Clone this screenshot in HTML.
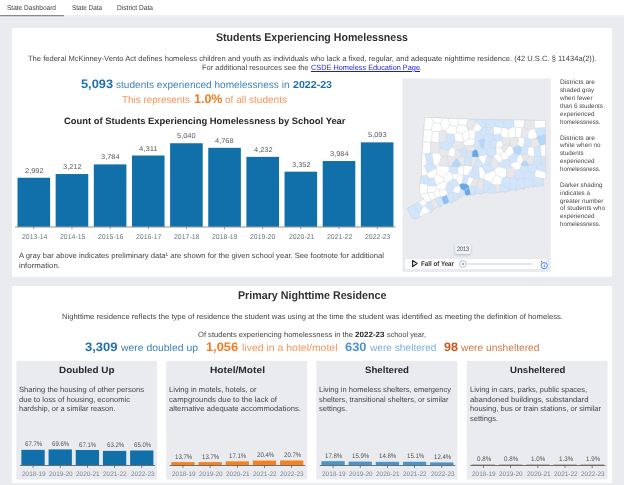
<!DOCTYPE html>
<html lang="en"><head><meta charset="utf-8"><title>Students Experiencing Homelessness</title>
<style>
html,body{margin:0;padding:0}
body{width:624px;height:485px;overflow:hidden;background:#e9ebef;position:relative;font-family:"Liberation Sans",Arial,sans-serif}
.t{position:absolute;white-space:nowrap;transform-origin:0 0;display:block;text-rendering:geometricPrecision}
.pb{display:inline-block;width:0;height:0;vertical-align:baseline}
.bgsvg{position:absolute;left:0;top:0}
h1.t{margin:0}
.slider{position:absolute;left:405px;top:259px;width:141px;height:10px;background:#fdfdfe;border-radius:1px}
.tip{position:absolute;left:455px;top:243.5px;width:16px;height:10.5px;background:#eff1f5;border-radius:2px;box-shadow:0 1px 2.5px rgba(0,0,0,.22)}
</style></head><body>
<svg class="bgsvg" width="624" height="485" viewBox="0 0 624 485">
<rect x="0" y="0" width="624" height="15" fill="#fff"/>
<rect x="0" y="15" width="624" height="2.4" fill="#eef0f3"/>
<rect x="0" y="15" width="64" height="1.3" fill="#868c93"/>
<rect x="11.9" y="27.9" width="600.2" height="249" fill="#fff"/>
<rect x="11.9" y="286" width="600.2" height="197" fill="#fff"/>
<rect x="402.5" y="78.4" width="148.3" height="193.6" fill="#e9ebef"/>
<rect x="16.3" y="360.9" width="140.80" height="118.6" fill="#e9ebef"/><rect x="166.2" y="360.9" width="140.90" height="118.6" fill="#e9ebef"/><rect x="316.3" y="360.9" width="141.00" height="118.6" fill="#e9ebef"/><rect x="466.7" y="360.9" width="140.80" height="118.6" fill="#e9ebef"/>
<rect x="17.50" y="177.75" width="32.60" height="49.00" fill="#1170aa"/><rect x="33.40" y="226.75" width="0.80" height="2.60" fill="#8a8f95"/><rect x="55.65" y="174.04" width="32.60" height="52.71" fill="#1170aa"/><rect x="71.55" y="226.75" width="0.80" height="2.60" fill="#8a8f95"/><rect x="93.80" y="164.40" width="32.60" height="62.35" fill="#1170aa"/><rect x="109.70" y="226.75" width="0.80" height="2.60" fill="#8a8f95"/><rect x="131.95" y="155.53" width="32.60" height="71.22" fill="#1170aa"/><rect x="147.85" y="226.75" width="0.80" height="2.60" fill="#8a8f95"/><rect x="170.10" y="143.25" width="32.60" height="83.50" fill="#1170aa"/><rect x="186.00" y="226.75" width="0.80" height="2.60" fill="#8a8f95"/><rect x="208.25" y="147.83" width="32.60" height="78.92" fill="#1170aa"/><rect x="224.15" y="226.75" width="0.80" height="2.60" fill="#8a8f95"/><rect x="246.40" y="156.86" width="32.60" height="69.89" fill="#1170aa"/><rect x="262.30" y="226.75" width="0.80" height="2.60" fill="#8a8f95"/><rect x="284.55" y="171.68" width="32.60" height="55.07" fill="#1170aa"/><rect x="300.45" y="226.75" width="0.80" height="2.60" fill="#8a8f95"/><rect x="322.70" y="161.04" width="32.60" height="65.71" fill="#1170aa"/><rect x="338.60" y="226.75" width="0.80" height="2.60" fill="#8a8f95"/><rect x="360.85" y="142.35" width="32.60" height="84.40" fill="#1170aa"/><rect x="376.75" y="226.75" width="0.80" height="2.60" fill="#8a8f95"/><rect x="15.00" y="226.60" width="380.50" height="0.80" fill="#70757b"/><rect x="21.40" y="449.87" width="23.30" height="15.33" fill="#1170aa"/><rect x="32.65" y="465.50" width="0.80" height="2.40" fill="#666"/><rect x="48.58" y="449.44" width="23.30" height="15.76" fill="#1170aa"/><rect x="59.83" y="465.50" width="0.80" height="2.40" fill="#666"/><rect x="75.76" y="450.00" width="23.30" height="15.20" fill="#1170aa"/><rect x="87.01" y="465.50" width="0.80" height="2.40" fill="#666"/><rect x="102.94" y="450.89" width="23.30" height="14.31" fill="#1170aa"/><rect x="114.19" y="465.50" width="0.80" height="2.40" fill="#666"/><rect x="130.12" y="450.48" width="23.30" height="14.72" fill="#1170aa"/><rect x="141.37" y="465.50" width="0.80" height="2.40" fill="#666"/><rect x="19.80" y="465.00" width="135.30" height="0.75" fill="#4a4a4a"/><rect x="171.30" y="462.10" width="23.30" height="3.10" fill="#f5821f"/><rect x="182.55" y="465.50" width="0.80" height="2.40" fill="#666"/><rect x="198.48" y="462.10" width="23.30" height="3.10" fill="#f5821f"/><rect x="209.73" y="465.50" width="0.80" height="2.40" fill="#666"/><rect x="225.66" y="461.33" width="23.30" height="3.87" fill="#f5821f"/><rect x="236.91" y="465.50" width="0.80" height="2.40" fill="#666"/><rect x="252.84" y="460.58" width="23.30" height="4.62" fill="#f5821f"/><rect x="264.09" y="465.50" width="0.80" height="2.40" fill="#666"/><rect x="280.02" y="460.51" width="23.30" height="4.69" fill="#f5821f"/><rect x="291.27" y="465.50" width="0.80" height="2.40" fill="#666"/><rect x="169.70" y="465.00" width="135.40" height="0.75" fill="#4a4a4a"/><rect x="321.40" y="461.17" width="23.30" height="4.03" fill="#4a94cb"/><rect x="332.65" y="465.50" width="0.80" height="2.40" fill="#666"/><rect x="348.58" y="461.60" width="23.30" height="3.60" fill="#4a94cb"/><rect x="359.83" y="465.50" width="0.80" height="2.40" fill="#666"/><rect x="375.76" y="461.85" width="23.30" height="3.35" fill="#4a94cb"/><rect x="387.01" y="465.50" width="0.80" height="2.40" fill="#666"/><rect x="402.94" y="461.78" width="23.30" height="3.42" fill="#4a94cb"/><rect x="414.19" y="465.50" width="0.80" height="2.40" fill="#666"/><rect x="430.12" y="462.39" width="23.30" height="2.81" fill="#4a94cb"/><rect x="441.37" y="465.50" width="0.80" height="2.40" fill="#666"/><rect x="319.80" y="465.00" width="135.50" height="0.75" fill="#4a4a4a"/><rect x="471.80" y="464.65" width="23.30" height="0.55" fill="#7a5848"/><rect x="483.05" y="465.50" width="0.80" height="2.40" fill="#666"/><rect x="498.98" y="464.65" width="23.30" height="0.55" fill="#7a5848"/><rect x="510.23" y="465.50" width="0.80" height="2.40" fill="#666"/><rect x="526.16" y="464.65" width="23.30" height="0.55" fill="#7a5848"/><rect x="537.41" y="465.50" width="0.80" height="2.40" fill="#666"/><rect x="553.34" y="464.65" width="23.30" height="0.55" fill="#7a5848"/><rect x="564.59" y="465.50" width="0.80" height="2.40" fill="#666"/><rect x="580.52" y="464.65" width="23.30" height="0.55" fill="#7a5848"/><rect x="591.77" y="465.50" width="0.80" height="2.40" fill="#666"/><rect x="470.20" y="465.00" width="135.30" height="0.75" fill="#4a4a4a"/>
</svg>
<svg style="position:absolute;left:402px;top:112px" width="150" height="112" viewBox="402 112 150 112">
<path d="M424.8 117.5 L476.0 119.4 L545.3 120.6 L545.8 178.4 L542.9 178.6 L542.9 186.5 L540.5 185.2 L538.0 187.2 L535.6 185.6 L533.7 187.0 L531.0 186.0 L528.5 187.9 L526.5 186.6 L525.0 187.8 L523.9 189.3 L521.0 188.2 L518.5 189.6 L516.4 188.8 L516.4 190.5 L513.5 189.6 L510.6 190.5 L508.0 191.0 L505.4 192.2 L502.5 191.3 L499.7 192.2 L497.5 191.8 L495.6 193.4 L493.0 192.6 L490.4 193.4 L487.5 192.2 L484.7 192.8 L482.5 193.0 L480.6 194.3 L478.0 193.3 L476.0 194.0 L472.5 194.9 L469.8 194.5 L466.9 195.8 L465.5 194.3 L464.0 194.5 L461.5 196.6 L459.4 197.4 L457.0 199.8 L454.8 200.9 L453.0 202.8 L451.3 203.2 L450.0 202.2 L448.4 202.6 L446.0 204.0 L443.2 203.8 L441.8 206.0 L440.3 206.7 L437.5 206.7 L435.0 208.6 L432.8 209.5 L432.0 211.6 L431.1 212.4 L429.3 211.8 L427.6 213.0 L425.5 214.2 L423.6 214.2 L421.0 216.3 L419.0 217.0 L417.0 218.4 L415.0 218.8 L414.0 218.2 L412.7 218.8 L407.2 208.6 L415.0 204.3 L420.7 200.9 L424.2 198.8 L420.7 195.7 L419.6 191.0 L420.2 183.0 L421.3 175.0 L421.9 168.0 L421.3 167.4 L423.0 143.0Z" fill="#ffffff" stroke="#cdd1d6" stroke-width="0.7"/>
<g stroke="#ccd0d6" stroke-width="0.36" stroke-linejoin="round">
<path d="M431.1 130.0 L433.6 122.9 L431.5 117.7 L424.8 117.5 L423.9 129.7Z" fill="#ffffff"/>
<path d="M433.6 122.9 L440.4 123.5 L443.3 118.2 L431.5 117.7Z" fill="#ffffff"/>
<path d="M439.2 131.9 L442.3 130.2 L440.4 123.5 L433.6 122.9 L431.1 130.0 L432.4 131.2Z" fill="#ffffff"/>
<path d="M440.4 123.5 L442.3 130.2 L445.3 130.7 L449.9 125.2 L448.1 118.4 L443.3 118.2Z" fill="#ffffff"/>
<path d="M458.2 118.7 L448.1 118.4 L449.9 125.2 L456.6 126.7 L458.2 124.9Z" fill="#ffffff"/>
<path d="M449.9 125.2 L445.3 130.7 L447.5 133.7 L454.3 134.6 L456.9 132.2 L456.6 126.7Z" fill="#ffffff"/>
<path d="M458.2 124.9 L466.2 126.2 L468.5 119.1 L458.2 118.7Z" fill="#ffffff"/>
<path d="M466.2 126.2 L458.2 124.9 L456.6 126.7 L456.9 132.2 L462.0 134.0 L467.9 129.7Z" fill="#ffffff"/>
<path d="M475.6 119.4 L468.5 119.1 L466.2 126.2 L467.9 129.7 L468.7 130.1 L472.9 129.8 L476.2 122.8Z" fill="#e6e8ec"/>
<path d="M431.1 130.0 L423.9 129.7 L423.1 141.4 L430.5 142.5 L431.6 141.9 L432.4 131.2Z" fill="#ffffff"/>
<path d="M431.6 141.9 L439.2 142.7 L439.2 131.9 L432.4 131.2Z" fill="#ffffff"/>
<path d="M447.5 133.7 L445.3 130.7 L442.3 130.2 L439.2 131.9 L439.2 142.7 L439.8 143.2 L445.9 141.5Z" fill="#e6e8ec"/>
<path d="M455.3 141.5 L454.3 134.6 L447.5 133.7 L445.9 141.5 L451.7 145.0Z" fill="#d1e6fc"/>
<path d="M462.0 134.0 L456.9 132.2 L454.3 134.6 L455.3 141.5 L463.6 142.1 L463.8 141.8Z" fill="#ffffff"/>
<path d="M468.7 130.1 L467.9 129.7 L462.0 134.0 L463.8 141.8 L469.5 138.4Z" fill="#ffffff"/>
<path d="M472.9 129.8 L468.7 130.1 L469.5 138.4 L474.8 139.7 L475.5 131.8Z" fill="#ffffff"/>
<path d="M430.5 142.5 L423.1 141.4 L423.0 143.0 L422.3 153.4 L424.8 154.1 L430.5 153.0Z" fill="#ffffff"/>
<path d="M439.8 143.2 L439.2 142.7 L431.6 141.9 L430.5 142.5 L430.5 153.0 L432.1 153.8 L438.0 152.5 L440.1 148.3Z" fill="#e6e8ec"/>
<path d="M451.9 147.2 L451.7 145.0 L445.9 141.5 L439.8 143.2 L440.1 148.3 L448.7 151.1Z" fill="#d1e6fc"/>
<path d="M464.8 146.0 L463.6 142.1 L455.3 141.5 L451.7 145.0 L451.9 147.2 L455.7 149.8 L459.8 150.3 L464.7 146.6Z" fill="#e6e8ec"/>
<path d="M469.5 138.4 L463.8 141.8 L463.6 142.1 L464.8 146.0 L473.6 145.2 L475.4 140.4 L474.8 139.7Z" fill="#ffffff"/>
<path d="M475.3 149.3 L473.6 145.2 L464.8 146.0 L464.7 146.6 L466.9 150.2 L472.3 151.4Z" fill="#e6e8ec"/>
<path d="M424.8 154.1 L426.8 164.2 L433.6 164.2 L432.1 153.8 L430.5 153.0Z" fill="#d1e6fc"/>
<path d="M438.0 152.5 L432.1 153.8 L433.6 164.2 L436.8 166.6 L438.7 165.7 L441.5 156.6Z" fill="#ffffff"/>
<path d="M448.7 151.1 L440.1 148.3 L438.0 152.5 L441.5 156.6 L447.2 156.2 L448.1 155.2Z" fill="#e6e8ec"/>
<path d="M441.5 156.6 L438.7 165.7 L449.0 166.8 L447.2 156.2Z" fill="#e6e8ec"/>
<path d="M454.7 157.2 L448.1 155.2 L447.2 156.2 L449.0 166.8 L449.1 166.8 L450.8 166.2 L456.0 158.7Z" fill="#e6e8ec"/>
<path d="M454.7 157.2 L455.7 149.8 L451.9 147.2 L448.7 151.1 L448.1 155.2Z" fill="#ffffff"/>
<path d="M460.9 156.3 L459.8 150.3 L455.7 149.8 L454.7 157.2 L456.0 158.7 L457.4 158.7Z" fill="#e6e8ec"/>
<path d="M459.8 150.3 L460.9 156.3 L464.9 157.2 L466.3 156.4 L466.9 150.2 L464.7 146.6Z" fill="#d1e6fc"/>
<path d="M466.9 150.2 L466.3 156.4 L470.9 157.5 L472.0 156.9 L472.3 151.4Z" fill="#d1e6fc"/>
<path d="M472.0 156.9 L478.1 157.6 L479.1 156.1 L477.5 150.1 L475.3 149.3 L472.3 151.4Z" fill="#66a9eb"/>
<path d="M457.4 158.7 L456.0 158.7 L450.8 166.2 L457.6 167.7 L461.8 165.7Z" fill="#b3d6f9"/>
<path d="M463.7 166.0 L464.9 165.4 L464.9 157.2 L460.9 156.3 L457.4 158.7 L461.8 165.7Z" fill="#e6e8ec"/>
<path d="M470.9 166.1 L470.9 157.5 L466.3 156.4 L464.9 157.2 L464.9 165.4Z" fill="#d1e6fc"/>
<path d="M473.3 167.1 L478.1 157.7 L478.1 157.6 L472.0 156.9 L470.9 157.5 L470.9 166.1 L472.7 167.2Z" fill="#e6e8ec"/>
<path d="M422.3 153.4 L421.4 166.2 L424.3 165.9 L426.8 164.2 L424.8 154.1Z" fill="#ffffff"/>
<path d="M485.9 126.9 L486.3 119.6 L476.0 119.4 L475.6 119.4 L476.2 122.8 L482.4 127.5Z" fill="#d1e6fc"/>
<path d="M485.9 126.9 L486.3 127.3 L493.3 127.8 L495.0 126.4 L494.5 119.7 L486.3 119.6Z" fill="#d1e6fc"/>
<path d="M495.0 126.4 L502.4 128.0 L503.5 127.4 L503.9 119.9 L494.5 119.7Z" fill="#d1e6fc"/>
<path d="M503.5 127.4 L507.9 129.2 L514.3 126.8 L513.9 120.1 L503.9 119.9Z" fill="#d1e6fc"/>
<path d="M515.0 127.3 L522.6 127.8 L523.6 127.3 L524.8 120.2 L513.9 120.1 L514.3 126.8Z" fill="#ffffff"/>
<path d="M523.6 127.3 L528.8 130.1 L534.7 128.4 L534.8 128.3 L534.3 120.4 L524.8 120.2Z" fill="#e6e8ec"/>
<path d="M534.8 128.3 L545.4 127.5 L545.3 120.6 L534.3 120.4Z" fill="#ffffff"/>
<path d="M476.2 122.8 L472.9 129.8 L475.5 131.8 L478.8 131.6 L482.4 127.5Z" fill="#ffffff"/>
<path d="M486.3 127.3 L485.9 126.9 L482.4 127.5 L478.8 131.6 L483.8 138.2 L486.9 134.5Z" fill="#d1e6fc"/>
<path d="M493.9 135.1 L493.3 127.8 L486.3 127.3 L486.9 134.5 L493.9 135.1Z" fill="#d1e6fc"/>
<path d="M493.9 135.1 L500.3 134.0 L502.4 128.0 L495.0 126.4 L493.3 127.8Z" fill="#ffffff"/>
<path d="M503.5 127.4 L502.4 128.0 L500.3 134.0 L502.7 138.1 L509.3 137.7 L507.9 129.2Z" fill="#ffffff"/>
<path d="M507.9 129.2 L509.3 137.7 L510.3 138.4 L515.9 137.1 L515.0 127.3 L514.3 126.8Z" fill="#ffffff"/>
<path d="M515.0 127.3 L515.9 137.1 L518.1 137.9 L520.7 137.2 L522.6 127.8Z" fill="#ffffff"/>
<path d="M527.6 137.8 L528.8 130.1 L523.6 127.3 L522.6 127.8 L520.7 137.2 L524.7 138.5Z" fill="#e6e8ec"/>
<path d="M530.5 139.5 L536.3 138.0 L537.3 136.0 L534.7 128.4 L528.8 130.1 L527.6 137.8Z" fill="#ffffff"/>
<path d="M537.3 136.0 L545.4 134.7 L545.4 127.5 L534.8 128.3 L534.7 128.4Z" fill="#d1e6fc"/>
<path d="M537.3 136.0 L536.3 138.0 L540.3 145.4 L540.4 145.4 L545.5 144.4 L545.4 134.7Z" fill="#b3d6f9"/>
<path d="M483.8 138.2 L478.8 131.6 L475.5 131.8 L474.8 139.7 L475.4 140.4 L478.5 140.6 L483.7 138.5Z" fill="#d1e6fc"/>
<path d="M493.9 139.5 L496.9 141.9 L501.2 140.8 L502.7 138.1 L500.3 134.0 L493.9 135.1 L493.9 135.1Z" fill="#d1e6fc"/>
<path d="M486.9 134.5 L483.8 138.2 L483.7 138.5 L484.9 140.0 L489.7 142.0 L493.9 139.5 L493.9 135.1Z" fill="#d1e6fc"/>
<path d="M483.7 138.5 L478.5 140.6 L480.7 148.1 L484.0 148.1 L484.9 140.0Z" fill="#b3d6f9"/>
<path d="M484.9 140.0 L484.0 148.1 L486.9 150.2 L490.7 147.2 L489.7 142.0Z" fill="#d1e6fc"/>
<path d="M489.7 142.0 L490.7 147.2 L495.8 148.0 L496.9 141.9 L493.9 139.5Z" fill="#d1e6fc"/>
<path d="M503.2 144.8 L501.2 140.8 L496.9 141.9 L495.8 148.0 L496.0 148.2 L500.8 147.7Z" fill="#ffffff"/>
<path d="M508.8 146.3 L509.8 146.0 L510.3 138.4 L509.3 137.7 L502.7 138.1 L501.2 140.8 L503.2 144.8Z" fill="#e6e8ec"/>
<path d="M518.1 145.5 L518.1 137.9 L515.9 137.1 L510.3 138.4 L509.8 146.0 L512.9 147.9Z" fill="#e6e8ec"/>
<path d="M523.7 146.7 L524.7 138.5 L520.7 137.2 L518.1 137.9 L518.1 145.5 L521.9 147.3Z" fill="#ffffff"/>
<path d="M530.5 146.7 L530.5 139.5 L527.6 137.8 L524.7 138.5 L523.7 146.7 L528.0 147.9Z" fill="#d1e6fc"/>
<path d="M530.5 146.7 L534.0 148.1 L540.3 145.4 L536.3 138.0 L530.5 139.5Z" fill="#e6e8ec"/>
<path d="M508.8 146.3 L503.2 144.8 L500.8 147.7 L503.7 152.1 L504.9 152.1Z" fill="#e6e8ec"/>
<path d="M478.5 140.6 L475.4 140.4 L473.6 145.2 L475.3 149.3 L477.5 150.1 L480.7 148.1Z" fill="#d1e6fc"/>
<path d="M480.7 148.1 L477.5 150.1 L479.1 156.1 L487.1 154.8 L486.9 150.2 L484.0 148.1Z" fill="#d1e6fc"/>
<path d="M493.6 156.6 L496.4 153.6 L496.0 148.2 L495.8 148.0 L490.7 147.2 L486.9 150.2 L487.1 154.8 L487.3 155.0 L492.4 156.8Z" fill="#d1e6fc"/>
<path d="M500.8 147.7 L496.0 148.2 L496.4 153.6 L500.5 154.2 L503.7 152.1Z" fill="#ffffff"/>
<path d="M508.9 157.1 L513.9 153.0 L512.9 147.9 L509.8 146.0 L508.8 146.3 L504.9 152.1Z" fill="#ffffff"/>
<path d="M521.9 147.3 L518.1 145.5 L512.9 147.9 L513.9 153.0 L518.3 155.2 L520.6 154.7Z" fill="#b3d6f9"/>
<path d="M528.0 147.9 L523.7 146.7 L521.9 147.3 L520.6 154.7 L521.8 155.2 L527.4 154.3Z" fill="#d1e6fc"/>
<path d="M534.3 156.7 L534.7 156.4 L534.0 148.1 L530.5 146.7 L528.0 147.9 L527.4 154.3 L529.5 156.0Z" fill="#ffffff"/>
<path d="M541.4 156.4 L540.4 145.4 L540.3 145.4 L534.0 148.1 L534.7 156.4Z" fill="#d1e6fc"/>
<path d="M540.4 145.4 L541.4 156.4 L545.6 156.4 L545.5 144.4Z" fill="#ffffff"/>
<path d="M487.1 154.8 L479.1 156.1 L478.1 157.6 L478.1 157.7 L483.4 164.8 L484.6 164.3 L487.3 155.0Z" fill="#ffffff"/>
<path d="M492.4 156.8 L487.3 155.0 L484.6 164.3 L490.4 165.5Z" fill="#d1e6fc"/>
<path d="M494.6 169.8 L498.8 166.4 L499.4 163.1 L493.6 156.6 L492.4 156.8 L490.4 165.5Z" fill="#e6e8ec"/>
<path d="M496.4 153.6 L493.6 156.6 L499.4 163.1 L502.7 160.1 L500.5 154.2Z" fill="#ffffff"/>
<path d="M503.7 152.1 L500.5 154.2 L502.7 160.1 L508.4 159.3 L508.9 157.1 L504.9 152.1Z" fill="#ffffff"/>
<path d="M518.3 155.2 L513.9 153.0 L508.9 157.1 L508.4 159.3 L511.1 163.6 L516.6 161.5Z" fill="#d1e6fc"/>
<path d="M521.8 155.2 L520.6 154.7 L518.3 155.2 L516.6 161.5 L520.8 164.1 L523.6 160.9Z" fill="#ffffff"/>
<path d="M526.6 161.2 L529.5 156.0 L527.4 154.3 L521.8 155.2 L523.6 160.9Z" fill="#e6e8ec"/>
<path d="M528.3 166.2 L529.4 164.9 L526.6 161.2 L523.6 160.9 L520.8 164.1 L521.3 166.2Z" fill="#b3d6f9"/>
<path d="M529.4 164.9 L533.2 164.1 L534.3 156.7 L529.5 156.0 L526.6 161.2Z" fill="#e6e8ec"/>
<path d="M540.7 164.2 L541.4 156.4 L534.7 156.4 L534.3 156.7 L533.2 164.1 L536.4 166.9Z" fill="#d1e6fc"/>
<path d="M541.4 156.4 L540.7 164.2 L545.7 166.2 L545.6 156.4Z" fill="#d1e6fc"/>
<path d="M511.1 163.6 L508.4 159.3 L502.7 160.1 L499.4 163.1 L498.8 166.4 L506.6 169.1 L510.8 165.8Z" fill="#d1e6fc"/>
<path d="M483.4 164.8 L478.1 157.7 L473.3 167.1 L478.4 167.8 L482.0 166.7Z" fill="#d1e6fc"/>
<path d="M521.3 166.2 L520.8 164.1 L516.6 161.5 L511.1 163.6 L510.8 165.8 L515.8 170.4 L520.3 169.1Z" fill="#ffffff"/>
<path d="M426.8 175.2 L427.7 172.6 L424.3 165.9 L421.4 166.2 L421.3 167.4 L421.9 168.0 L421.3 175.0 L421.2 176.0Z" fill="#ffffff"/>
<path d="M426.8 164.2 L424.3 165.9 L427.7 172.6 L436.5 168.2 L436.8 166.6 L433.6 164.2Z" fill="#d1e6fc"/>
<path d="M429.8 178.2 L426.8 175.2 L421.2 176.0 L420.2 183.0 L420.2 183.3 L426.9 184.6Z" fill="#d1e6fc"/>
<path d="M434.0 177.9 L429.8 178.2 L426.9 184.6 L427.9 185.9 L436.3 185.9 L436.5 185.4Z" fill="#d1e6fc"/>
<path d="M434.0 177.9 L437.3 174.0 L436.5 168.2 L427.7 172.6 L426.8 175.2 L429.8 178.2Z" fill="#ffffff"/>
<path d="M443.9 177.8 L437.3 174.0 L434.0 177.9 L436.5 185.4 L444.7 180.9Z" fill="#ffffff"/>
<path d="M449.1 166.8 L449.0 166.8 L438.7 165.7 L436.8 166.6 L436.5 168.2 L437.3 174.0 L443.9 177.8 L449.3 171.1Z" fill="#ffffff"/>
<path d="M451.8 173.7 L449.3 171.1 L443.9 177.8 L444.7 180.9 L447.4 183.1 L453.1 179.1Z" fill="#ffffff"/>
<path d="M450.8 166.2 L449.1 166.8 L449.3 171.1 L451.8 173.7 L458.2 173.7 L457.6 167.7Z" fill="#d1e6fc"/>
<path d="M451.8 173.7 L453.1 179.1 L456.0 179.8 L459.4 174.9 L458.2 173.7Z" fill="#ffffff"/>
<path d="M457.6 167.7 L458.2 173.7 L459.4 174.9 L463.3 175.1 L463.7 174.9 L463.7 166.0 L461.8 165.7Z" fill="#ffffff"/>
<path d="M459.4 174.9 L456.0 179.8 L459.2 184.8 L462.4 183.2 L463.3 175.1Z" fill="#ffffff"/>
<path d="M463.3 175.1 L462.4 183.2 L466.6 184.0 L469.0 176.7 L468.1 175.4 L463.7 174.9Z" fill="#d1e6fc"/>
<path d="M463.7 174.9 L468.1 175.4 L472.6 168.0 L472.7 167.2 L470.9 166.1 L464.9 165.4 L463.7 166.0Z" fill="#ffffff"/>
<path d="M469.0 176.7 L473.8 178.6 L476.6 178.0 L472.6 168.0 L468.1 175.4Z" fill="#d1e6fc"/>
<path d="M466.6 184.0 L469.5 186.4 L470.2 186.2 L473.8 178.6 L469.0 176.7Z" fill="#ffffff"/>
<path d="M470.2 186.2 L474.9 186.9 L476.7 186.4 L479.5 178.7 L476.6 178.0 L473.8 178.6Z" fill="#e6e8ec"/>
<path d="M427.4 192.7 L427.9 185.9 L426.9 184.6 L420.2 183.3 L419.6 191.0 L420.5 194.8Z" fill="#ffffff"/>
<path d="M436.3 185.9 L427.9 185.9 L427.4 192.7 L427.8 192.9 L433.7 192.4 L437.1 188.5Z" fill="#ffffff"/>
<path d="M447.4 183.1 L444.7 180.9 L436.5 185.4 L436.3 185.9 L437.1 188.5 L439.5 190.2 L445.3 189.1 L447.5 183.6Z" fill="#ffffff"/>
<path d="M453.1 179.1 L447.4 183.1 L447.5 183.6 L453.9 187.7 L459.2 184.8 L459.2 184.8 L456.0 179.8Z" fill="#d1e6fc"/>
<path d="M447.5 183.6 L445.3 189.1 L447.8 193.7 L452.5 193.1 L453.3 192.3 L453.9 187.7Z" fill="#d1e6fc"/>
<path d="M453.9 187.7 L453.3 192.3 L458.4 193.9 L461.0 189.3 L459.2 184.8Z" fill="#ffffff"/>
<path d="M462.4 183.2 L459.2 184.8 L459.2 184.8 L461.0 189.3 L464.3 191.0 L469.3 187.4 L469.5 186.4 L466.6 184.0Z" fill="#66a9eb"/>
<path d="M469.3 187.4 L464.3 191.0 L464.8 194.4 L465.5 194.3 L466.9 195.8 L469.8 194.5 L471.1 194.7Z" fill="#66a9eb"/>
<path d="M464.3 191.0 L461.0 189.3 L458.4 193.9 L460.3 197.1 L461.5 196.6 L464.0 194.5 L464.8 194.4Z" fill="#d1e6fc"/>
<path d="M474.9 186.9 L470.2 186.2 L469.5 186.4 L469.3 187.4 L471.1 194.7 L472.5 194.9 L474.9 194.3Z" fill="#d1e6fc"/>
<path d="M427.8 192.9 L427.4 192.7 L420.5 194.8 L420.7 195.7 L424.2 198.8 L423.4 199.3 L427.2 202.2 L429.9 201.4 L430.7 200.2Z" fill="#ffffff"/>
<path d="M427.8 192.9 L430.7 200.2 L435.1 199.2 L435.8 198.2 L433.7 192.4Z" fill="#ffffff"/>
<path d="M437.1 188.5 L433.7 192.4 L435.8 198.2 L440.6 196.6 L439.5 190.2Z" fill="#ffffff"/>
<path d="M445.3 189.1 L439.5 190.2 L440.6 196.6 L441.5 197.0 L447.0 195.0 L447.8 193.7Z" fill="#ffffff"/>
<path d="M423.0 206.6 L424.8 206.1 L427.2 202.2 L423.4 199.3 L420.7 200.9 L418.2 202.4Z" fill="#ffffff"/>
<path d="M441.5 197.0 L440.6 196.6 L435.8 198.2 L435.1 199.2 L439.1 206.7 L440.3 206.7 L441.8 206.0 L443.2 203.8 L443.4 203.8Z" fill="#d1e6fc"/>
<path d="M447.0 195.0 L441.5 197.0 L443.4 203.8 L446.0 204.0 L448.4 202.6 L449.5 202.3Z" fill="#8cc0f2"/>
<path d="M452.5 193.1 L447.8 193.7 L447.0 195.0 L449.5 202.3 L450.0 202.2 L451.3 203.2 L453.0 202.8 L454.3 201.4Z" fill="#d1e6fc"/>
<path d="M454.3 201.4 L454.8 200.9 L457.0 199.8 L459.4 197.4 L460.3 197.1 L458.4 193.9 L453.3 192.3 L452.5 193.1Z" fill="#d1e6fc"/>
<path d="M435.1 199.2 L430.7 200.2 L429.9 201.4 L433.6 209.2 L435.0 208.6 L437.5 206.7 L439.1 206.7Z" fill="#e6e8ec"/>
<path d="M427.2 202.2 L424.8 206.1 L431.3 212.2 L432.0 211.6 L432.8 209.5 L433.6 209.2 L429.9 201.4Z" fill="#d1e6fc"/>
<path d="M424.8 206.1 L423.0 206.6 L419.2 214.5 L419.4 216.9 L421.0 216.3 L423.6 214.2 L425.5 214.2 L427.6 213.0 L429.3 211.8 L431.1 212.4 L431.3 212.2Z" fill="#ffffff"/>
<path d="M419.2 214.5 L423.0 206.6 L418.2 202.4 L415.0 204.3 L413.3 205.2Z" fill="#d1e6fc"/>
<path d="M419.2 214.5 L413.3 205.2 L407.2 208.6 L412.7 218.8 L414.0 218.2 L415.0 218.8 L417.0 218.4 L419.0 217.0 L419.4 216.9Z" fill="#d1e6fc"/>
<path d="M478.4 167.8 L473.3 167.1 L472.7 167.2 L472.6 168.0 L476.6 178.0 L479.5 178.7 L479.9 178.6Z" fill="#d1e6fc"/>
<path d="M485.8 173.7 L482.0 166.7 L478.4 167.8 L479.9 178.6 L483.2 178.8Z" fill="#ffffff"/>
<path d="M485.8 173.7 L494.5 170.5 L494.6 169.8 L490.4 165.5 L484.6 164.3 L483.4 164.8 L482.0 166.7Z" fill="#d1e6fc"/>
<path d="M479.9 178.6 L479.5 178.7 L476.7 186.4 L483.4 191.6 L483.4 179.0 L483.2 178.8Z" fill="#e6e8ec"/>
<path d="M492.1 184.0 L491.5 182.5 L483.4 179.0 L483.4 191.6 L484.1 192.9 L484.7 192.8 L486.7 192.4Z" fill="#d1e6fc"/>
<path d="M483.4 179.0 L491.5 182.5 L496.0 174.6 L494.5 170.5 L485.8 173.7 L483.2 178.8Z" fill="#ffffff"/>
<path d="M491.5 182.5 L492.1 184.0 L494.3 184.9 L500.4 184.8 L501.1 184.2 L502.6 178.0 L496.0 174.6Z" fill="#ffffff"/>
<path d="M494.3 184.9 L492.1 184.0 L486.7 192.4 L487.5 192.2 L490.4 193.4 L493.0 192.6 L495.6 193.4 L496.4 192.8Z" fill="#d1e6fc"/>
<path d="M500.4 184.8 L494.3 184.9 L496.4 192.8 L497.5 191.8 L499.7 192.2 L500.0 192.1Z" fill="#e6e8ec"/>
<path d="M509.7 188.9 L501.1 184.2 L500.4 184.8 L500.0 192.1 L502.5 191.3 L505.4 192.2 L508.0 191.0 L510.6 190.5 L510.6 190.5Z" fill="#d1e6fc"/>
<path d="M506.6 169.1 L498.8 166.4 L494.6 169.8 L494.5 170.5 L496.0 174.6 L502.6 178.0 L506.6 176.6Z" fill="#ffffff"/>
<path d="M515.8 170.4 L510.8 165.8 L506.6 169.1 L506.6 176.6 L509.7 178.1 L514.3 177.1Z" fill="#e6e8ec"/>
<path d="M502.6 178.0 L501.1 184.2 L509.7 188.9 L509.7 178.1 L506.6 176.6Z" fill="#d1e6fc"/>
<path d="M509.7 178.1 L509.7 188.9 L510.6 190.5 L513.5 189.6 L516.0 190.4 L517.1 178.8 L514.3 177.1Z" fill="#d1e6fc"/>
<path d="M524.5 173.8 L520.3 169.1 L515.8 170.4 L514.3 177.1 L517.1 178.8 L524.0 178.4Z" fill="#d1e6fc"/>
<path d="M517.1 178.8 L516.0 190.4 L516.4 190.5 L516.4 188.8 L518.5 189.6 L521.0 188.2 L523.9 189.3 L524.5 188.5 L524.5 178.9 L524.0 178.4Z" fill="#d1e6fc"/>
<path d="M524.5 178.9 L533.3 179.5 L535.3 177.1 L534.7 173.1 L528.1 171.2 L524.5 173.8 L524.0 178.4Z" fill="#d1e6fc"/>
<path d="M524.5 188.5 L525.0 187.8 L526.5 186.6 L528.5 187.9 L531.0 186.0 L533.7 187.0 L534.1 186.7 L533.3 179.5 L524.5 178.9Z" fill="#d1e6fc"/>
<path d="M536.6 169.2 L534.7 173.1 L535.3 177.1 L543.3 178.6 L545.8 178.4 L545.7 172.2Z" fill="#ffffff"/>
<path d="M535.3 177.1 L533.3 179.5 L534.1 186.7 L535.6 185.6 L538.0 187.2 L540.5 185.2 L542.9 186.5 L542.9 178.6 L543.3 178.6Z" fill="#d1e6fc"/>
<path d="M483.4 191.6 L476.7 186.4 L474.9 186.9 L474.9 194.3 L476.0 194.0 L478.0 193.3 L480.6 194.3 L482.5 193.0 L484.1 192.9Z" fill="#d1e6fc"/>
<path d="M528.1 171.2 L528.3 166.2 L521.3 166.2 L520.3 169.1 L524.5 173.8Z" fill="#d1e6fc"/>
<path d="M536.6 169.2 L536.4 166.9 L533.2 164.1 L529.4 164.9 L528.3 166.2 L528.1 171.2 L534.7 173.1Z" fill="#d1e6fc"/>
<path d="M540.7 164.2 L536.4 166.9 L536.6 169.2 L545.7 172.2 L545.7 166.2Z" fill="#d1e6fc"/>
</g></svg>
<div class="slider"></div>
<div class="tip"></div>
<svg style="position:absolute;left:402px;top:240px" width="150" height="34" viewBox="402 240 150 34">
<path d="M412.6 260.6 L417.1 263.6 L412.6 266.6 Z" fill="none" stroke="#222" stroke-width="1.15" stroke-linejoin="round"/>
<line x1="467" y1="264" x2="532.5" y2="264" stroke="#cdd3db" stroke-width="1.2"/>
<circle cx="463" cy="264" r="3.3" fill="#fff" stroke="#a3afc0" stroke-width="0.8"/>
<circle cx="463" cy="264" r="1.1" fill="#8494ab"/>
<circle cx="544.2" cy="265.6" r="3.1" fill="#fff" stroke="#2a7de1" stroke-width="0.9"/>
<rect x="543.75" y="265" width="0.9" height="2.3" fill="#2a7de1"/><rect x="543.75" y="263.6" width="0.9" height="0.9" fill="#2a7de1"/>
<rect x="541.2" y="260.8" width="0.9" height="1.6" fill="#444"/>
</svg>
<nav><span class="t" style="left:7.00px;top:5.00px;font-size:7.0px;line-height:8.75px;font-weight:400;color:#3c3c3c;transform:scaleX(0.9325);">State Dashboard</span><span class="t" style="left:71.50px;top:5.00px;font-size:7.0px;line-height:8.75px;font-weight:400;color:#3c3c3c;transform:scaleX(0.9069);">State Data</span><span class="t" style="left:116.50px;top:5.00px;font-size:7.0px;line-height:8.75px;font-weight:400;color:#3c3c3c;transform:scaleX(0.9443);">District Data</span></nav>
<section><h1 class="t" style="left:216.00px;top:31.00px;font-size:11.2px;line-height:14.0px;font-weight:700;color:#303030;transform:scaleX(0.9473);">Students Experiencing Homelessness</h1><span class="t" style="left:28.00px;top:54.00px;font-size:7.6px;line-height:9.5px;font-weight:400;color:#454545;transform:scaleX(0.9964);">The federal McKinney-Vento Act defines homeless children and youth as individuals who lack a fixed, regular, and adequate nighttime residence. (42 U.S.C. § 11434a(2)).</span><span class="t" style="left:201.50px;top:63.00px;font-size:7.6px;line-height:9.5px;font-weight:400;color:#454545;transform:scaleX(0.9817);">For additional resources see the</span><a href="#" class="t" style="left:311.00px;top:63.00px;font-size:7.6px;line-height:9.5px;font-weight:400;color:#1a1ae6;transform:scaleX(0.9671);text-decoration:underline;">CSDE Homeless Education Page</a><span class="t" style="left:420.30px;top:63.00px;font-size:7.6px;line-height:9.5px;font-weight:400;color:#454545;transform:scaleX(0.8000);">.</span><span class="t" style="left:80.50px;top:77.00px;font-size:12.2px;line-height:15.25px;font-weight:700;color:#1f6eac;transform:scaleX(1.0492);">5,093</span><span class="t" style="left:116.00px;top:80.00px;font-size:10.2px;line-height:12.75px;font-weight:400;color:#3f83bd;transform:scaleX(0.9883);">students experienced homelessness in</span><span class="t" style="left:292.50px;top:80.00px;font-size:10.2px;line-height:12.75px;font-weight:700;color:#1f6eac;transform:scaleX(1.0430);">2022-23</span><span class="t" style="left:122.00px;top:95.00px;font-size:10.2px;line-height:12.75px;font-weight:400;color:#f7955a;transform:scaleX(0.9684);">This represents</span><span class="t" style="left:193.50px;top:92.00px;font-size:12.6px;line-height:15.75px;font-weight:700;color:#f47b20;transform:scaleX(0.9924);">1.0%</span><span class="t" style="left:225.00px;top:95.00px;font-size:10.2px;line-height:12.75px;font-weight:400;color:#f7955a;transform:scaleX(0.9861);">of all students</span><span class="t" style="left:64.00px;top:116.00px;font-size:9.2px;line-height:11.5px;font-weight:700;color:#262626;transform:scaleX(1.0236);">Count of Students Experiencing Homelessness by School Year</span><span class="t" style="left:19.00px;top:251.00px;font-size:7.6px;line-height:9.5px;font-weight:400;color:#454545;transform:scaleX(1.0066);">A gray bar above indicates preliminary data¹ are shown for the given school year. See footnote for additional</span><span class="t" style="left:19.00px;top:261.00px;font-size:7.6px;line-height:9.5px;font-weight:400;color:#454545;transform:scaleX(1.0331);">information.</span><span class="t" style="left:560.00px;top:79.00px;font-size:6.4px;line-height:8.0px;font-weight:400;color:#484848;transform:scaleX(1.0375);">Districts are</span><span class="t" style="left:560.00px;top:87.00px;font-size:6.4px;line-height:8.0px;font-weight:400;color:#484848;transform:scaleX(0.9663);">shaded gray</span><span class="t" style="left:560.00px;top:95.00px;font-size:6.4px;line-height:8.0px;font-weight:400;color:#484848;transform:scaleX(0.9943);">when fewer</span><span class="t" style="left:560.00px;top:103.00px;font-size:6.4px;line-height:8.0px;font-weight:400;color:#484848;transform:scaleX(0.9839);">than 6 students</span><span class="t" style="left:560.00px;top:111.00px;font-size:6.4px;line-height:8.0px;font-weight:400;color:#484848;transform:scaleX(0.9906);">experienced</span><span class="t" style="left:560.00px;top:119.00px;font-size:6.4px;line-height:8.0px;font-weight:400;color:#484848;transform:scaleX(0.9498);">homelessness.</span><span class="t" style="left:560.00px;top:135.00px;font-size:6.4px;line-height:8.0px;font-weight:400;color:#484848;transform:scaleX(1.0375);">Districts are</span><span class="t" style="left:560.00px;top:142.00px;font-size:6.4px;line-height:8.0px;font-weight:400;color:#484848;transform:scaleX(0.9912);">white when no</span><span class="t" style="left:560.00px;top:150.00px;font-size:6.4px;line-height:8.0px;font-weight:400;color:#484848;transform:scaleX(0.9722);">students</span><span class="t" style="left:560.00px;top:158.00px;font-size:6.4px;line-height:8.0px;font-weight:400;color:#484848;transform:scaleX(0.9906);">experienced</span><span class="t" style="left:560.00px;top:166.00px;font-size:6.4px;line-height:8.0px;font-weight:400;color:#484848;transform:scaleX(0.9498);">homelessness.</span><span class="t" style="left:560.00px;top:182.00px;font-size:6.4px;line-height:8.0px;font-weight:400;color:#484848;transform:scaleX(0.9805);">Darker shading</span><span class="t" style="left:560.00px;top:190.00px;font-size:6.4px;line-height:8.0px;font-weight:400;color:#484848;transform:scaleX(0.9816);">indicates a</span><span class="t" style="left:560.00px;top:198.00px;font-size:6.4px;line-height:8.0px;font-weight:400;color:#484848;transform:scaleX(0.9954);">greater number</span><span class="t" style="left:560.00px;top:205.00px;font-size:6.4px;line-height:8.0px;font-weight:400;color:#484848;transform:scaleX(1.0052);">of students who</span><span class="t" style="left:560.00px;top:213.00px;font-size:6.4px;line-height:8.0px;font-weight:400;color:#484848;transform:scaleX(0.9906);">experienced</span><span class="t" style="left:560.00px;top:221.00px;font-size:6.4px;line-height:8.0px;font-weight:400;color:#484848;transform:scaleX(0.9498);">homelessness.</span><span class="t" style="left:24.70px;top:168.00px;font-size:7.0px;line-height:8.75px;font-weight:400;color:#5a5a5a;transform:scaleX(1.0610);">2,992</span><span class="t" style="left:21.50px;top:234.00px;font-size:7.0px;line-height:8.75px;font-weight:400;color:#6c7683;transform:scaleX(0.9882);">2013-14</span><span class="t" style="left:62.85px;top:164.00px;font-size:7.0px;line-height:8.75px;font-weight:400;color:#5a5a5a;transform:scaleX(1.0610);">3,212</span><span class="t" style="left:59.65px;top:234.00px;font-size:7.0px;line-height:8.75px;font-weight:400;color:#6c7683;transform:scaleX(0.9882);">2014-15</span><span class="t" style="left:101.00px;top:154.00px;font-size:7.0px;line-height:8.75px;font-weight:400;color:#5a5a5a;transform:scaleX(1.0610);">3,784</span><span class="t" style="left:97.80px;top:234.00px;font-size:7.0px;line-height:8.75px;font-weight:400;color:#6c7683;transform:scaleX(0.9882);">2015-16</span><span class="t" style="left:139.15px;top:146.00px;font-size:7.0px;line-height:8.75px;font-weight:400;color:#5a5a5a;transform:scaleX(1.0941);">4,311</span><span class="t" style="left:135.95px;top:234.00px;font-size:7.0px;line-height:8.75px;font-weight:400;color:#6c7683;transform:scaleX(0.9882);">2016-17</span><span class="t" style="left:177.30px;top:133.00px;font-size:7.0px;line-height:8.75px;font-weight:400;color:#5a5a5a;transform:scaleX(1.0610);">5,040</span><span class="t" style="left:174.10px;top:234.00px;font-size:7.0px;line-height:8.75px;font-weight:400;color:#6c7683;transform:scaleX(0.9882);">2017-18</span><span class="t" style="left:215.45px;top:138.00px;font-size:7.0px;line-height:8.75px;font-weight:400;color:#5a5a5a;transform:scaleX(1.0610);">4,768</span><span class="t" style="left:212.25px;top:234.00px;font-size:7.0px;line-height:8.75px;font-weight:400;color:#6c7683;transform:scaleX(0.9882);">2018-19</span><span class="t" style="left:253.60px;top:147.00px;font-size:7.0px;line-height:8.75px;font-weight:400;color:#5a5a5a;transform:scaleX(1.0610);">4,232</span><span class="t" style="left:250.40px;top:234.00px;font-size:7.0px;line-height:8.75px;font-weight:400;color:#6c7683;transform:scaleX(0.9882);">2019-20</span><span class="t" style="left:291.75px;top:162.00px;font-size:7.0px;line-height:8.75px;font-weight:400;color:#5a5a5a;transform:scaleX(1.0610);">3,352</span><span class="t" style="left:288.55px;top:234.00px;font-size:7.0px;line-height:8.75px;font-weight:400;color:#6c7683;transform:scaleX(0.9882);">2020-21</span><span class="t" style="left:329.90px;top:151.00px;font-size:7.0px;line-height:8.75px;font-weight:400;color:#5a5a5a;transform:scaleX(1.0610);">3,984</span><span class="t" style="left:326.70px;top:234.00px;font-size:7.0px;line-height:8.75px;font-weight:400;color:#6c7683;transform:scaleX(0.9882);">2021-22</span><span class="t" style="left:368.05px;top:132.00px;font-size:7.0px;line-height:8.75px;font-weight:400;color:#5a5a5a;transform:scaleX(1.0610);">5,093</span><span class="t" style="left:364.85px;top:234.00px;font-size:7.0px;line-height:8.75px;font-weight:400;color:#6c7683;transform:scaleX(0.9882);">2022-23</span><span class="t" style="left:421.00px;top:261.00px;font-size:7.0px;line-height:8.75px;font-weight:700;color:#333;transform:scaleX(0.8863);">Fall of Year</span><span class="t" style="left:456.90px;top:246.00px;font-size:6.4px;line-height:8.0px;font-weight:400;color:#45546a;transform:scaleX(0.8440);">2013</span></section>
<section><h1 class="t" style="left:237.60px;top:289.00px;font-size:11.2px;line-height:14.0px;font-weight:700;color:#303030;transform:scaleX(0.9547);">Primary Nighttime Residence</h1><span class="t" style="left:61.50px;top:312.00px;font-size:7.6px;line-height:9.5px;font-weight:400;color:#454545;transform:scaleX(1.0084);">Nighttime residence reflects the type of residence the student was using at the time the student was identified as meeting the definition of homeless.</span><span class="t" style="left:197.50px;top:330.00px;font-size:7.6px;line-height:9.5px;font-weight:400;color:#454545;transform:scaleX(0.9978);">Of students experiencing homelessness in the</span><span class="t" style="left:355.00px;top:330.00px;font-size:7.6px;line-height:9.5px;font-weight:700;color:#262626;transform:scaleX(1.0583);">2022-23</span><span class="t" style="left:387.00px;top:330.00px;font-size:7.6px;line-height:9.5px;font-weight:400;color:#454545;transform:scaleX(0.9622);">school year,</span><span class="t" style="left:84.50px;top:340.00px;font-size:12.2px;line-height:15.25px;font-weight:700;color:#1f6eac;transform:scaleX(1.0656);">3,309</span><span class="t" style="left:120.50px;top:343.00px;font-size:10.2px;line-height:12.75px;font-weight:400;color:#3f83bd;transform:scaleX(1.0220);">were doubled up</span><span class="t" style="left:206.00px;top:340.00px;font-size:12.2px;line-height:15.25px;font-weight:700;color:#f47b20;transform:scaleX(1.0492);">1,056</span><span class="t" style="left:241.50px;top:343.00px;font-size:10.2px;line-height:12.75px;font-weight:400;color:#f7955a;transform:scaleX(1.0283);">lived in a hotel/motel</span><span class="t" style="left:344.50px;top:340.00px;font-size:12.2px;line-height:15.25px;font-weight:700;color:#4f94cf;transform:scaleX(1.0568);">630</span><span class="t" style="left:369.50px;top:343.00px;font-size:10.2px;line-height:12.75px;font-weight:400;color:#7eaede;transform:scaleX(0.9951);">were sheltered</span><span class="t" style="left:444.00px;top:340.00px;font-size:12.2px;line-height:15.25px;font-weight:700;color:#c75a1c;transform:scaleX(1.0323);">98</span><span class="t" style="left:461.00px;top:343.00px;font-size:10.2px;line-height:12.75px;font-weight:400;color:#cf7a4a;transform:scaleX(1.0044);">were unsheltered</span><span class="t" style="left:59.00px;top:365.00px;font-size:9.2px;line-height:11.5px;font-weight:700;color:#262626;transform:scaleX(1.0767);">Doubled Up</span><span class="t" style="left:19.10px;top:385.00px;font-size:7.6px;line-height:9.5px;font-weight:400;color:#454545;transform:scaleX(1.0036);">Sharing the housing of other persons</span><span class="t" style="left:19.10px;top:395.00px;font-size:7.6px;line-height:9.5px;font-weight:400;color:#454545;transform:scaleX(1.0035);">due to loss of housing, economic</span><span class="t" style="left:19.10px;top:404.00px;font-size:7.6px;line-height:9.5px;font-weight:400;color:#454545;transform:scaleX(0.9855);">hardship, or a similar reason.</span><span class="t" style="left:25.10px;top:441.00px;font-size:6.7px;line-height:8.38px;font-weight:400;color:#505050;transform:scaleX(0.9120);">67.7%</span><span class="t" style="left:21.85px;top:471.00px;font-size:6.6px;line-height:8.25px;font-weight:400;color:#788290;transform:scaleX(0.9751);">2018-19</span><span class="t" style="left:52.28px;top:441.00px;font-size:6.7px;line-height:8.38px;font-weight:400;color:#505050;transform:scaleX(0.9120);">69.6%</span><span class="t" style="left:49.03px;top:471.00px;font-size:6.6px;line-height:8.25px;font-weight:400;color:#788290;transform:scaleX(0.9751);">2019-20</span><span class="t" style="left:79.46px;top:442.00px;font-size:6.7px;line-height:8.38px;font-weight:400;color:#505050;transform:scaleX(0.9120);">67.1%</span><span class="t" style="left:76.21px;top:471.00px;font-size:6.6px;line-height:8.25px;font-weight:400;color:#788290;transform:scaleX(0.9751);">2020-21</span><span class="t" style="left:106.64px;top:442.00px;font-size:6.7px;line-height:8.38px;font-weight:400;color:#505050;transform:scaleX(0.9120);">63.2%</span><span class="t" style="left:103.39px;top:471.00px;font-size:6.6px;line-height:8.25px;font-weight:400;color:#788290;transform:scaleX(0.9751);">2021-22</span><span class="t" style="left:133.82px;top:442.00px;font-size:6.7px;line-height:8.38px;font-weight:400;color:#505050;transform:scaleX(0.9120);">65.0%</span><span class="t" style="left:130.57px;top:471.00px;font-size:6.6px;line-height:8.25px;font-weight:400;color:#788290;transform:scaleX(0.9751);">2022-23</span><span class="t" style="left:209.50px;top:365.00px;font-size:9.2px;line-height:11.5px;font-weight:700;color:#262626;transform:scaleX(1.1108);">Hotel/Motel</span><span class="t" style="left:169.00px;top:385.00px;font-size:7.6px;line-height:9.5px;font-weight:400;color:#454545;transform:scaleX(0.9966);">Living in motels, hotels, or</span><span class="t" style="left:169.00px;top:395.00px;font-size:7.6px;line-height:9.5px;font-weight:400;color:#454545;transform:scaleX(1.0192);">campgrounds due to the lack of</span><span class="t" style="left:169.00px;top:404.00px;font-size:7.6px;line-height:9.5px;font-weight:400;color:#454545;transform:scaleX(1.0119);">alternative adequate accommodations.</span><span class="t" style="left:175.00px;top:454.00px;font-size:6.7px;line-height:8.38px;font-weight:400;color:#505050;transform:scaleX(0.9120);">13.7%</span><span class="t" style="left:171.75px;top:471.00px;font-size:6.6px;line-height:8.25px;font-weight:400;color:#788290;transform:scaleX(0.9751);">2018-19</span><span class="t" style="left:202.18px;top:454.00px;font-size:6.7px;line-height:8.38px;font-weight:400;color:#505050;transform:scaleX(0.9120);">13.7%</span><span class="t" style="left:198.93px;top:471.00px;font-size:6.6px;line-height:8.25px;font-weight:400;color:#788290;transform:scaleX(0.9751);">2019-20</span><span class="t" style="left:229.36px;top:453.00px;font-size:6.7px;line-height:8.38px;font-weight:400;color:#505050;transform:scaleX(0.9120);">17.1%</span><span class="t" style="left:226.11px;top:471.00px;font-size:6.6px;line-height:8.25px;font-weight:400;color:#788290;transform:scaleX(0.9751);">2020-21</span><span class="t" style="left:256.54px;top:452.00px;font-size:6.7px;line-height:8.38px;font-weight:400;color:#505050;transform:scaleX(0.9120);">20.4%</span><span class="t" style="left:253.29px;top:471.00px;font-size:6.6px;line-height:8.25px;font-weight:400;color:#788290;transform:scaleX(0.9751);">2021-22</span><span class="t" style="left:283.72px;top:452.00px;font-size:6.7px;line-height:8.38px;font-weight:400;color:#505050;transform:scaleX(0.9120);">20.7%</span><span class="t" style="left:280.47px;top:471.00px;font-size:6.6px;line-height:8.25px;font-weight:400;color:#788290;transform:scaleX(0.9751);">2022-23</span><span class="t" style="left:365.00px;top:365.00px;font-size:9.2px;line-height:11.5px;font-weight:700;color:#262626;transform:scaleX(1.0507);">Sheltered</span><span class="t" style="left:319.10px;top:385.00px;font-size:7.6px;line-height:9.5px;font-weight:400;color:#454545;transform:scaleX(0.9927);">Living in homeless shelters, emergency</span><span class="t" style="left:319.10px;top:395.00px;font-size:7.6px;line-height:9.5px;font-weight:400;color:#454545;transform:scaleX(0.9867);">shelters, transitional shelters, or similar</span><span class="t" style="left:319.10px;top:404.00px;font-size:7.6px;line-height:9.5px;font-weight:400;color:#454545;transform:scaleX(0.9901);">settings.</span><span class="t" style="left:325.10px;top:453.00px;font-size:6.7px;line-height:8.38px;font-weight:400;color:#505050;transform:scaleX(0.9120);">17.8%</span><span class="t" style="left:321.85px;top:471.00px;font-size:6.6px;line-height:8.25px;font-weight:400;color:#788290;transform:scaleX(0.9751);">2018-19</span><span class="t" style="left:352.28px;top:453.00px;font-size:6.7px;line-height:8.38px;font-weight:400;color:#505050;transform:scaleX(0.9120);">15.9%</span><span class="t" style="left:349.03px;top:471.00px;font-size:6.6px;line-height:8.25px;font-weight:400;color:#788290;transform:scaleX(0.9751);">2019-20</span><span class="t" style="left:379.46px;top:453.00px;font-size:6.7px;line-height:8.38px;font-weight:400;color:#505050;transform:scaleX(0.9120);">14.8%</span><span class="t" style="left:376.21px;top:471.00px;font-size:6.6px;line-height:8.25px;font-weight:400;color:#788290;transform:scaleX(0.9751);">2020-21</span><span class="t" style="left:406.64px;top:453.00px;font-size:6.7px;line-height:8.38px;font-weight:400;color:#505050;transform:scaleX(0.9120);">15.1%</span><span class="t" style="left:403.39px;top:471.00px;font-size:6.6px;line-height:8.25px;font-weight:400;color:#788290;transform:scaleX(0.9751);">2021-22</span><span class="t" style="left:433.82px;top:454.00px;font-size:6.7px;line-height:8.38px;font-weight:400;color:#505050;transform:scaleX(0.9120);">12.4%</span><span class="t" style="left:430.57px;top:471.00px;font-size:6.6px;line-height:8.25px;font-weight:400;color:#788290;transform:scaleX(0.9751);">2022-23</span><span class="t" style="left:509.50px;top:365.00px;font-size:9.2px;line-height:11.5px;font-weight:700;color:#262626;transform:scaleX(1.0450);">Unsheltered</span><span class="t" style="left:469.50px;top:385.00px;font-size:7.6px;line-height:9.5px;font-weight:400;color:#454545;transform:scaleX(0.9795);">Living in cars, parks, public spaces,</span><span class="t" style="left:469.50px;top:395.00px;font-size:7.6px;line-height:9.5px;font-weight:400;color:#454545;transform:scaleX(1.0206);">abandoned buildings, substandard</span><span class="t" style="left:469.50px;top:404.00px;font-size:7.6px;line-height:9.5px;font-weight:400;color:#454545;transform:scaleX(0.9916);">housing, bus or train stations, or similar</span><span class="t" style="left:469.50px;top:414.00px;font-size:7.6px;line-height:9.5px;font-weight:400;color:#454545;transform:scaleX(0.9901);">settings.</span><span class="t" style="left:477.05px;top:456.00px;font-size:6.7px;line-height:8.38px;font-weight:400;color:#505050;transform:scaleX(0.9311);">0.8%</span><span class="t" style="left:472.25px;top:471.00px;font-size:6.6px;line-height:8.25px;font-weight:400;color:#788290;transform:scaleX(0.9751);">2018-19</span><span class="t" style="left:504.23px;top:456.00px;font-size:6.7px;line-height:8.38px;font-weight:400;color:#505050;transform:scaleX(0.9311);">0.8%</span><span class="t" style="left:499.43px;top:471.00px;font-size:6.6px;line-height:8.25px;font-weight:400;color:#788290;transform:scaleX(0.9751);">2019-20</span><span class="t" style="left:531.41px;top:456.00px;font-size:6.7px;line-height:8.38px;font-weight:400;color:#505050;transform:scaleX(0.9311);">1.0%</span><span class="t" style="left:526.61px;top:471.00px;font-size:6.6px;line-height:8.25px;font-weight:400;color:#788290;transform:scaleX(0.9751);">2020-21</span><span class="t" style="left:558.59px;top:456.00px;font-size:6.7px;line-height:8.38px;font-weight:400;color:#505050;transform:scaleX(0.9311);">1.3%</span><span class="t" style="left:553.79px;top:471.00px;font-size:6.6px;line-height:8.25px;font-weight:400;color:#788290;transform:scaleX(0.9751);">2021-22</span><span class="t" style="left:585.77px;top:456.00px;font-size:6.7px;line-height:8.38px;font-weight:400;color:#505050;transform:scaleX(0.9311);">1.9%</span><span class="t" style="left:580.97px;top:471.00px;font-size:6.6px;line-height:8.25px;font-weight:400;color:#788290;transform:scaleX(0.9751);">2022-23</span></section>
</body></html>
